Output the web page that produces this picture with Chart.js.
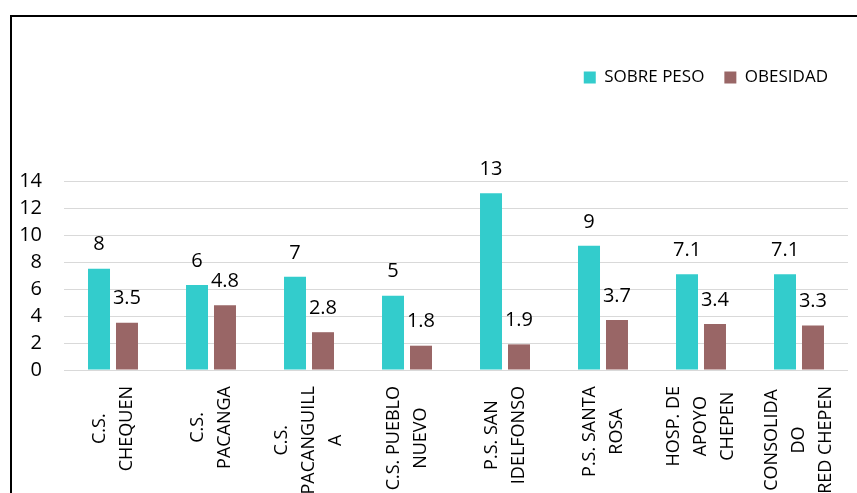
<!DOCTYPE html>
<html>
<head>
<meta charset="utf-8">
<script src="https://cdn.jsdelivr.net/npm/chart.js@4.4.1/dist/chart.umd.min.js"></script>
<style>
  html, body { margin: 0; padding: 0; background: #fff; overflow: hidden; }
  #wrap { position: relative; width: 857px; height: 493px; }
  #frame { position: absolute; left: 10px; top: 15px; width: 900px; height: 600px;
           border-top: 2px solid #000; border-left: 2px solid #000; }
  canvas { position: absolute; left: 0; top: 0; }
</style>
</head>
<body>
<div id="wrap">
  <div id="frame"></div>
  <canvas id="chart" width="857" height="493"></canvas>
</div>
<script>
const categories = [
  ['C.S.', 'CHEQUEN'],
  ['C.S.', 'PACANGA'],
  ['C.S.', 'PACANGUILL', 'A'],
  ['C.S. PUEBLO', 'NUEVO'],
  ['P.S. SAN', 'IDELFONSO'],
  ['P.S. SANTA', 'ROSA'],
  ['HOSP. DE', 'APOYO', 'CHEPEN'],
  ['CONSOLIDA', 'DO', 'RED CHEPEN']
];
// bar heights as drawn, and the labels printed over them
const sobrePeso = [7.5, 6.3, 6.9, 5.5, 13.1, 9.2, 7.1, 7.1];
const sobrePesoLabels = ['8', '6', '7', '5', '13', '9', '7.1', '7.1'];
const obesidad = [3.5, 4.8, 2.8, 1.8, 1.9, 3.7, 3.4, 3.3];
const obesidadLabels = ['3.5', '4.8', '2.8', '1.8', '1.9', '3.7', '3.4', '3.3'];
const yTicks = [0, 2, 4, 6, 8, 10, 12, 14];

const FONT = "'Open Sans', sans-serif";

// extra room under the legend
const legendSpace = {
  id: 'legendSpace',
  afterInit(chart) {
    const lg = chart.legend;
    if (!lg || lg._spaced) return;
    const fit = lg.fit;
    lg.fit = function () {
      fit.call(this);
      this.height += 85;
    };
    lg._spaced = true;
  }
};

// value labels above each bar
const barLabels = {
  id: 'barLabels',
  afterDatasetsDraw(chart) {
    const ctx = chart.ctx;
    const texts = [sobrePesoLabels, obesidadLabels];
    ctx.save();
    ctx.font = '20px ' + FONT;
    ctx.fillStyle = '#000';
    ctx.textAlign = 'center';
    ctx.textBaseline = 'middle';
    chart.data.datasets.forEach((ds, i) => {
      chart.getDatasetMeta(i).data.forEach((bar, j) => {
        ctx.fillText(texts[i][j], bar.x, bar.y - 24);
      });
    });
    ctx.restore();
  }
};

// category names rotated to read bottom-to-top
const xLabels = {
  id: 'xLabels',
  afterDraw(chart) {
    const ctx = chart.ctx;
    const xs = chart.scales.x;
    const top = chart.chartArea.bottom + 16;
    const lineH = 27;
    ctx.save();
    ctx.font = '18px ' + FONT;
    ctx.fillStyle = '#000';
    ctx.textAlign = 'center';
    ctx.textBaseline = 'middle';
    categories.forEach((lines, i) => {
      const w = Math.max(...lines.map(l => ctx.measureText(l).width));
      const x = xs.getPixelForValue(i);
      ctx.save();
      ctx.translate(x, top + w / 2);
      ctx.rotate(-Math.PI / 2);
      lines.forEach((l, k) => {
        ctx.fillText(l, 0, (k - (lines.length - 1) / 2) * lineH);
      });
      ctx.restore();
    });
    ctx.restore();
  }
};

new Chart(document.getElementById('chart'), {
  type: 'bar',
  data: {
    labels: categories.map(c => c.join(' ')),
    datasets: [
      { label: 'SOBRE PESO', data: sobrePeso, backgroundColor: '#33CCCC',
        categoryPercentage: 0.571, barPercentage: 0.786 },
      { label: 'OBESIDAD', data: obesidad, backgroundColor: '#996666',
        categoryPercentage: 0.571, barPercentage: 0.786 }
    ]
  },
  options: {
    responsive: false,
    animation: false,
    layout: { padding: { top: 49, left: 19, right: 9, bottom: 115 } },
    plugins: {
      legend: {
        position: 'top',
        align: 'end',
        labels: {
          font: { family: FONT, size: 17 },
          color: '#000',
          boxWidth: 12,
          boxHeight: 12,
          padding: 20
        }
      },
      tooltip: { enabled: false }
    },
    scales: {
      x: {
        grid: { display: false },
        border: { display: false },
        ticks: { display: false }
      },
      y: {
        min: 0,
        max: 14,
        afterBuildTicks(axis) { axis.ticks = yTicks.map(v => ({ value: v })); },
        afterFit(axis) { axis.width = 45; },
        grid: { color: '#d9d9d9', drawTicks: false },
        border: { display: false },
        ticks: { font: { family: FONT, size: 20 }, color: '#000', padding: 22 }
      }
    }
  },
  plugins: [legendSpace, barLabels, xLabels]
});
</script>
</body>
</html>
